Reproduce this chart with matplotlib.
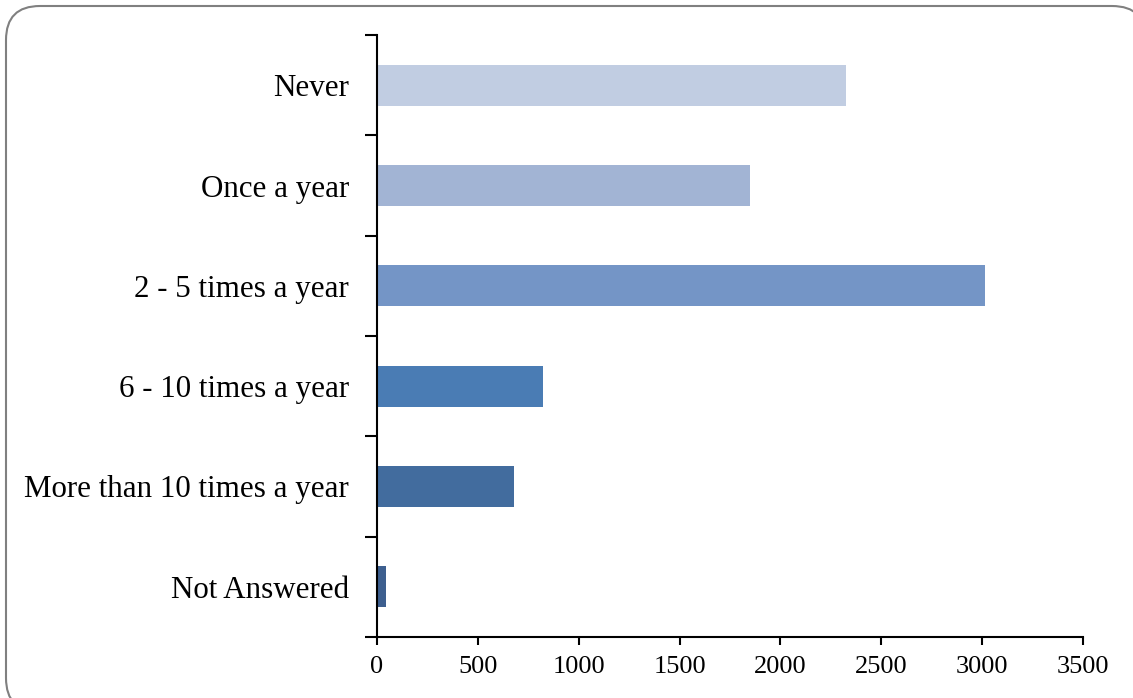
import matplotlib
matplotlib.use("Agg")
import matplotlib.pyplot as plt
from matplotlib.patches import FancyBboxPatch
import numpy as np

categories = ["Never", "Once a year", "2 - 5 times a year", "6 - 10 times a year",
              "More than 10 times a year", "Not Answered"]
values = [2325, 1850, 3012, 822, 680, 45]
colors = ["#C1CDE2", "#A2B4D4", "#7495C6", "#4A7CB4", "#426C9E", "#3D5F8F"]
xticks = [0, 500, 1000, 1500, 2000, 2500, 3000, 3500]

plt.rcParams['font.family'] = ['Liberation Serif', 'DejaVu Serif']

fig = plt.figure(figsize=(11.33, 6.98), dpi=100)
W, H = 1133, 698

# rounded outer frame
frame = FancyBboxPatch((6 / W, (H - 712) / H), (1146 - 6) / W, (712 - 6) / H,
                       boxstyle="round,pad=0,rounding_size=0.03",
                       transform=fig.transFigure, facecolor="white",
                       edgecolor="#808080", linewidth=1.5, zorder=-5,
                       mutation_aspect=W / H)
fig.patches.append(frame)

ax = fig.add_axes([377 / W, (H - 637) / H, (1083 - 377) / W, (637 - 35) / H])
ax.set_zorder(2)
ax.set_facecolor("none")

n = len(categories)
ypos = np.arange(n)[::-1]
ax.barh(ypos, values, height=0.41, color=colors, zorder=2)

ax.set_xlim(0, 3500)
ax.set_ylim(-0.5, n - 0.5)
ax.set_xticks(xticks)
ax.set_xticklabels([str(t) for t in xticks], fontsize=19)
ax.set_yticks(ypos)
ax.set_yticklabels(categories, fontsize=22.3)
ax.tick_params(axis='y', length=0, pad=20)
ax.set_yticks(np.arange(-0.5, n, 1.0), minor=True)
ax.tick_params(axis='y', which='minor', length=9, width=1.5, direction='out')
ax.tick_params(axis='x', length=6, width=1.5, direction='out', pad=8)

for s in ['top', 'right']:
    ax.spines[s].set_visible(False)
ax.spines['left'].set_linewidth(1.5)
ax.spines['bottom'].set_linewidth(1.5)

fig.savefig("out.png", dpi=100)
